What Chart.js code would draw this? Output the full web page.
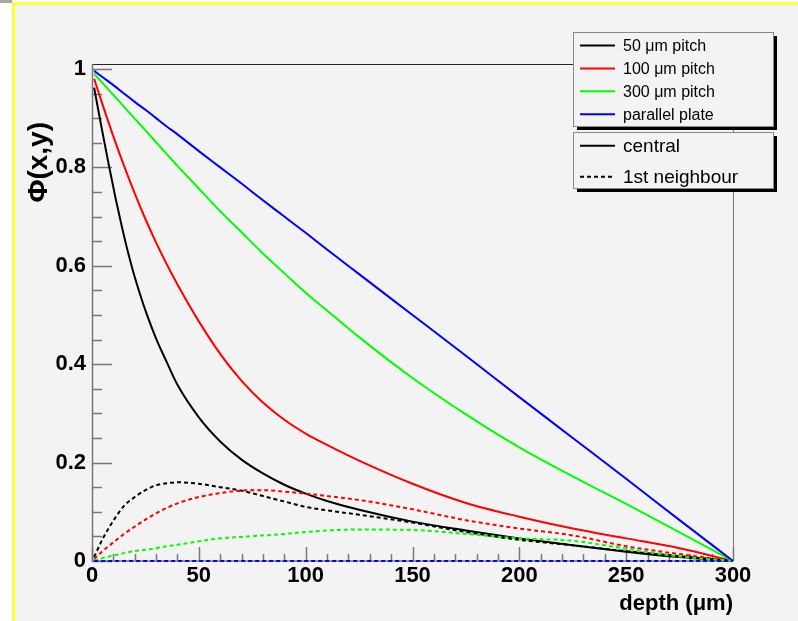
<!DOCTYPE html>
<html>
<head>
<meta charset="utf-8">
<script src="https://cdn.jsdelivr.net/npm/chart.js@4.4.0/dist/chart.umd.min.js"></script>
<style>
html,body{margin:0;padding:0;background:#fff;}
#wrap{position:absolute;left:0;top:0;width:798px;height:621px;}
</style>
</head>
<body>
<div id="wrap"><canvas id="c" width="798" height="621"></canvas></div>
<script>
// ---- data ----
const depthFine = [1,3,5,8,11,14,17,20,23,26,30,35,40,50,60,70,80,90,100,110,125,150,175,200,225,250,275,300];
const central50 = [0.962,0.915,0.869,0.802,0.738,0.679,0.625,0.577,0.535,0.497,0.452,0.404,0.358,0.292,0.243,0.206,0.178,0.155,0.137,0.122,0.104,0.080,0.062,0.046,0.032,0.019,0.008,0];

const depth = [1,5,10,15,20,25,30,35,40,50,60,70,80,90,100,110,125,150,175,200,225,250,275,300];
const central100 = [0.98,0.927,0.863,0.803,0.747,0.695,0.647,0.603,0.562,0.487,0.421,0.366,0.322,0.287,0.259,0.236,0.204,0.157,0.118,0.090,0.066,0.046,0.026,0];
const central300 = [0.99,0.971,0.947,0.923,0.899,0.875,0.851,0.827,0.803,0.757,0.711,0.668,0.625,0.585,0.545,0.509,0.455,0.372,0.298,0.231,0.172,0.116,0.058,0];
const centralPP  = [0.996,0.983,0.967,0.95,0.933,0.917,0.9,0.883,0.867,0.833,0.8,0.767,0.733,0.7,0.667,0.633,0.583,0.5,0.417,0.333,0.25,0.167,0.083,0];

const neigh50  = [0.008,0.045,0.082,0.112,0.13,0.144,0.154,0.158,0.16,0.157,0.15,0.143,0.132,0.121,0.11,0.103,0.094,0.078,0.059,0.043,0.032,0.020,0.010,0];
const neigh100 = [0.004,0.02,0.038,0.055,0.07,0.084,0.097,0.108,0.117,0.13,0.138,0.143,0.144,0.141,0.137,0.132,0.124,0.105,0.083,0.066,0.052,0.030,0.014,0];
const neigh300 = [0.001,0.006,0.011,0.016,0.02,0.023,0.026,0.03,0.033,0.04,0.046,0.049,0.052,0.055,0.059,0.062,0.064,0.063,0.055,0.046,0.041,0.025,0.009,0];
const neighPP  = [0,0,0,0,0,0,0,0,0,0,0,0,0,0,0,0,0,0,0,0,0,0,0,0];

const pitchLabels = ['50 \u03bcm pitch','100 \u03bcm pitch','300 \u03bcm pitch','parallel plate'];
const typeLabels = ['central','1st neighbour'];
const xTickValues = [0,50,100,150,200,250,300];
const xTickLabels = ['0','50','100','150','200','250','300'];
const yTickValues = [0,0.2,0.4,0.6,0.8,1];
const yTickLabels = ['0','0.2','0.4','0.6','0.8','1'];
const xTitle = 'depth (\u03bcm)';
const yTitle = '\u03a6(x,y)';

// ---- styles ----
const colors = ['#000000','#ff0000','#00ff00','#0000ff'];
const DASH = [4,3];
const FONT = '"Liberation Sans", Arial, Helvetica, sans-serif';

const centralSets = [[depthFine, central50], [depth, central100], [depth, central300], [depth, centralPP]];
const neighSets = [[depth, neigh50], [depth, neigh100], [depth, neigh300], [depth, neighPP]];
const datasets = [];
let k = 0;
centralSets.forEach(([xs, arr], i) => {
  datasets.push({label: pitchLabels[i] + ' ' + typeLabels[0], data: xs.map((d, j) => ({x: d, y: arr[j]})),
    borderColor: colors[i], borderWidth: 2, pointRadius: 0, fill: false, cubicInterpolationMode: 'monotone', order: -(k++), clip: 4});
});
neighSets.forEach(([xs, arr], i) => {
  datasets.push({label: pitchLabels[i] + ' ' + typeLabels[1], data: xs.map((d, j) => ({x: d, y: arr[j]})),
    borderColor: colors[i], borderWidth: 2, borderDash: DASH, pointRadius: 0, fill: false, cubicInterpolationMode: 'monotone', order: -(k++), clip: 4});
});

const decor = {
  id: 'decor',
  beforeDraw(chart) {
    const ctx = chart.ctx;
    ctx.save();
    ctx.fillStyle = '#ffffff'; ctx.fillRect(0, 0, 798, 621);
    ctx.fillStyle = '#f3f3f3'; ctx.fillRect(14, 4, 784, 617);
    ctx.fillStyle = '#a6a6a6'; ctx.fillRect(0, 0, 12, 3);
    ctx.fillStyle = '#ffff3c'; ctx.fillRect(12, 2, 786, 3); ctx.fillRect(12, 2, 3, 619);
    ctx.restore();
  },
  beforeDatasetsDraw(chart) {
    const ctx = chart.ctx, a = chart.chartArea, xs = chart.scales.x, ys = chart.scales.y;
    ctx.save();
    ctx.lineWidth = 1;
    ctx.strokeStyle = '#222';
    ctx.beginPath(); ctx.moveTo(a.left, a.top + 0.5); ctx.lineTo(a.right + 1, a.top + 0.5); ctx.stroke();
    ctx.strokeStyle = '#777';
    ctx.beginPath(); ctx.moveTo(a.right + 0.5, a.top); ctx.lineTo(a.right + 0.5, a.bottom); ctx.stroke();
    ctx.lineWidth = 1.5;
    ctx.beginPath(); ctx.moveTo(a.left + 0.5, a.top); ctx.lineTo(a.left + 0.5, a.bottom + 1); ctx.stroke();
    ctx.beginPath(); ctx.moveTo(a.left, a.bottom); ctx.lineTo(a.right, a.bottom); ctx.stroke();
    for (let v = 0; v <= 300; v += 10) {
      const px = Math.round(xs.getPixelForValue(v)) + 0.5;
      const len = (v % 50 === 0) ? 14 : 7;
      ctx.beginPath(); ctx.moveTo(px, a.bottom); ctx.lineTo(px, a.bottom - len); ctx.stroke();
    }
    for (let i = 0; i <= 20; i++) {
      const v = i * 0.05;
      const py = Math.round(ys.getPixelForValue(v)) + 0.5;
      const len = (i % 4 === 0) ? 20 : 10;
      ctx.beginPath(); ctx.moveTo(a.left, py); ctx.lineTo(a.left + len, py); ctx.stroke();
    }
    ctx.restore();
  },
  afterDraw(chart) {
    const ctx = chart.ctx, a = chart.chartArea;
    ctx.save();
    ctx.fillStyle = '#000';
    ctx.font = 'bold 22px ' + FONT;
    ctx.textAlign = 'right'; ctx.textBaseline = 'alphabetic';
    ctx.fillText(xTitle, a.right, 610);
    ctx.font = 'bold 28px ' + FONT;
    ctx.translate(47, 122); ctx.rotate(-Math.PI / 2);
    ctx.fillText(yTitle, 0, 0);
    ctx.setTransform(1, 0, 0, 1, 0, 0);

    function box(x, y, w, h) {
      ctx.fillStyle = '#000'; ctx.fillRect(x + 4, y + 4, w, h);
      ctx.fillStyle = '#f3f3f3'; ctx.fillRect(x, y, w, h);
      ctx.strokeStyle = '#888'; ctx.lineWidth = 1; ctx.strokeRect(x + 0.5, y + 0.5, w, h);
    }
    box(573, 32, 200, 94);
    ctx.font = '16px ' + FONT; ctx.textAlign = 'left'; ctx.textBaseline = 'middle';
    pitchLabels.forEach((t, i) => {
      const y = 45.5 + i * 22.9;
      ctx.strokeStyle = colors[i]; ctx.lineWidth = 2; ctx.setLineDash([]);
      ctx.beginPath(); ctx.moveTo(580, y); ctx.lineTo(615, y); ctx.stroke();
      ctx.fillStyle = '#000'; ctx.fillText(t, 623, y + 1);
    });
    box(573, 132, 200, 56);
    ctx.font = '19px ' + FONT;
    typeLabels.forEach((t, i) => {
      const y = 145.7 + i * 31;
      ctx.strokeStyle = '#000'; ctx.lineWidth = 2; ctx.setLineDash(i === 0 ? [] : DASH);
      ctx.beginPath(); ctx.moveTo(580, y); ctx.lineTo(615, y); ctx.stroke();
      ctx.setLineDash([]);
      ctx.fillStyle = '#000'; ctx.fillText(t, 623, y + 1);
    });
    ctx.restore();
  }
};

new Chart(document.getElementById('c'), {
  type: 'line',
  data: {datasets},
  plugins: [decor],
  options: {
    responsive: false,
    animation: false,
    events: [],
    layout: {padding: {left: 0, top: 64, right: 65, bottom: 0}},
    plugins: {legend: {display: false}, tooltip: {enabled: false}, title: {display: false}},
    scales: {
      x: {
        type: 'linear', min: 0, max: 300, position: 'bottom',
        grid: {display: false, drawTicks: false}, border: {display: false},
        afterBuildTicks: s => { s.ticks = xTickValues.map(v => ({value: v})); },
        afterFit: s => { s.height = 60; },
        ticks: {font: {family: FONT, size: 22, weight: 'bold'}, color: '#000', padding: 2, maxRotation: 0,
          callback: v => xTickLabels[xTickValues.indexOf(v)]}
      },
      y: {
        type: 'linear', min: 0, max: 1.01,
        grid: {display: false, drawTicks: false}, border: {display: false},
        afterBuildTicks: s => { s.ticks = yTickValues.map(v => ({value: v})); },
        afterFit: s => { s.width = 92; },
        ticks: {font: {family: FONT, size: 22, weight: 'bold'}, color: '#000', padding: 6,
          callback: v => yTickLabels[yTickValues.indexOf(v)]}
      }
    }
  }
});
</script>
</body>
</html>
